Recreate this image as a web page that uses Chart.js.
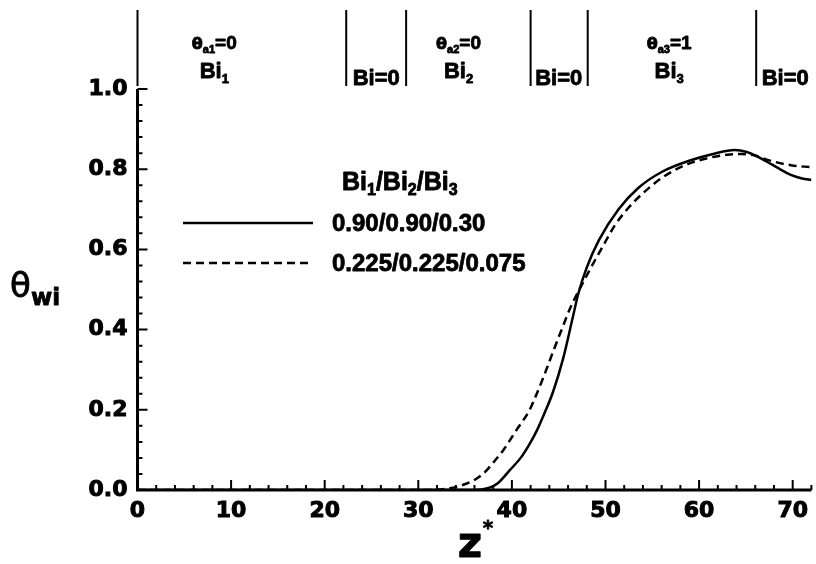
<!DOCTYPE html>
<html>
<head>
<meta charset="utf-8">
<script src="https://cdn.jsdelivr.net/npm/chart.js@4.4.0/dist/chart.umd.min.js"></script>
<style>
body { margin: 0; background: #fff; }
</style>
</head>
<body>
<canvas id="myChart" width="816" height="564"></canvas>
<script>
// solid curve, Bi = 0.90/0.90/0.30
var zSolid = [0, 30, 36, 37.5, 38.5, 39.8, 41, 41.9, 42.7, 43.4, 44.4, 45.5, 46.5, 47.1, 48, 49.3, 51.4, 53.5, 56, 59.2, 61.5, 63.8, 65.1, 66.2, 67.3, 68.5, 69.8, 71, 72];
var thetaSolid = [0, 0, 0, 0.005, 0.017, 0.05, 0.082, 0.115, 0.15, 0.187, 0.245, 0.33, 0.43, 0.49, 0.555, 0.623, 0.70, 0.753, 0.793, 0.823, 0.838, 0.848, 0.843, 0.832, 0.818, 0.802, 0.786, 0.777, 0.773];

// dashed curve, Bi = 0.225/0.225/0.075
var zDashed = [0, 31, 33, 34.4, 36, 37, 38, 39.1, 40.5, 41.9, 42.6, 43.4, 44.4, 45.4, 46.2, 47.1, 48, 49, 49.7, 51, 52.5, 54, 56, 58.5, 61, 63, 64.5, 66, 67.5, 69.8, 72];
var thetaDashed = [0, 0, 0.003, 0.01, 0.025, 0.042, 0.068, 0.1, 0.15, 0.2, 0.237, 0.283, 0.345, 0.405, 0.452, 0.495, 0.535, 0.578, 0.607, 0.66, 0.705, 0.74, 0.778, 0.81, 0.828, 0.836, 0.838, 0.834, 0.822, 0.81, 0.805];

var legendLabels = ["0.90/0.90/0.30", "0.225/0.225/0.075"];

// zones along z* drawn above the plot
var zoneEdges = [0, 22.3, 28.7, 42, 48.1, 66.1];
var zoneLabelZ = [8.2, 25.5, 34.3, 45, 56.8, 69.2];
var zoneThetaSub = ["a1", null, "a2", null, "a3", null];
var zoneThetaVal = ["0", null, "0", null, "1", null];
var zoneBiSub = ["1", null, "2", null, "3", null];

var xMax = 72;

function toPoints(xs, ys) {
    var pts = [];
    for (var i = 0; i < xs.length; i++) {
        pts.push({ x: xs[i], y: ys[i] });
    }
    return pts;
}

// draws a row of text pieces [text, font, dy], centred on cx (or from cx if align is 'left')
function drawPieces(c, pieces, cx, y, align, heavy) {
    var w = 0;
    pieces.forEach(function (p) { c.font = p[1]; w += c.measureText(p[0]).width; });
    var x = align === 'left' ? cx : cx - w / 2;
    c.textAlign = 'left';
    c.textBaseline = 'alphabetic';
    c.lineWidth = heavy === undefined ? 0.8 : heavy;
    c.lineJoin = 'round';
    pieces.forEach(function (p) {
        c.font = p[1];
        c.fillText(p[0], x, y + p[2]);
        if (c.lineWidth > 0.01) c.strokeText(p[0], x, y + p[2]);
        x += c.measureText(p[0]).width;
    });
}

const decor = {
    id: 'decor',
    afterDraw(chart) {
        var c = chart.ctx, xs = chart.scales.x, ys = chart.scales.y, a = chart.chartArea;
        c.save();
        c.strokeStyle = '#000';
        c.fillStyle = '#000';

        // axes
        c.lineWidth = 3;
        c.beginPath();
        c.moveTo(a.left, a.top);
        c.lineTo(a.left, a.bottom);
        c.lineTo(a.right, a.bottom);
        c.stroke();

        // inward ticks
        c.lineWidth = 2;
        c.beginPath();
        for (var i = 0; i * 2 <= xMax; i++) {
            var px = xs.getPixelForValue(i * 2);
            var len = (i * 2) % 10 === 0 ? 10 : 5;
            c.moveTo(px, a.bottom);
            c.lineTo(px, a.bottom - len);
        }
        for (var j = 0; j <= 25; j++) {
            var py = ys.getPixelForValue(j * 0.04);
            var ln = j % 5 === 0 ? 10 : 5;
            c.moveTo(a.left, py);
            c.lineTo(a.left + ln, py);
        }
        c.stroke();

        // zone separators
        c.lineWidth = 2;
        c.beginPath();
        zoneEdges.forEach(function (z) {
            var px = xs.getPixelForValue(z);
            c.moveTo(px, 10);
            c.lineTo(px, 86);
        });
        c.stroke();

        // zone labels
        zoneLabelZ.forEach(function (z, k) {
            var px = xs.getPixelForValue(z);
            if (zoneThetaSub[k]) {
                drawPieces(c, [
                    ["\u03b8", "bold 16px 'DejaVu Sans'", 0],
                    [zoneThetaSub[k], "bold 11px 'Liberation Sans'", 4],
                    ["=" + zoneThetaVal[k], "bold 19px 'Liberation Sans'", 0]
                ], px, 49);
                drawPieces(c, [
                    ["Bi", "bold 22px 'Liberation Sans'", 0],
                    [zoneBiSub[k], "bold 13px 'Liberation Sans'", 5]
                ], px, 78);
            } else {
                drawPieces(c, [["Bi=0", "bold 22px 'Liberation Sans'", 0]], px, 85);
            }
        });

        // legend
        c.lineWidth = 2.5;
        c.beginPath();
        c.moveTo(183, 223); c.lineTo(313, 223);
        c.stroke();
        c.setLineDash([8, 5]);
        c.beginPath();
        c.moveTo(183, 263); c.lineTo(313, 263);
        c.stroke();
        c.setLineDash([]);
        drawPieces(c, [
            ["Bi", "bold 25px 'Liberation Sans'", 0], ["1", "bold 16px 'Liberation Sans'", 5],
            ["/Bi", "bold 25px 'Liberation Sans'", 0], ["2", "bold 16px 'Liberation Sans'", 5],
            ["/Bi", "bold 25px 'Liberation Sans'", 0], ["3", "bold 16px 'Liberation Sans'", 5]
        ], 342, 190, 'left');
        drawPieces(c, [[legendLabels[0], "bold 24px 'Liberation Sans'", 0]], 332, 231, 'left');
        drawPieces(c, [[legendLabels[1], "bold 24px 'Liberation Sans'", 0]], 332, 271, 'left');

        // axis titles
        drawPieces(c, [["\u03b8", "34px 'DejaVu Sans'", 0]], 10, 297, 'left', 0);
        drawPieces(c, [["wi", "bold 23px 'DejaVu Sans'", 0]], 31, 305, 'left');
        drawPieces(c, [["z", "bold 42px 'DejaVu Sans'", 0]], 470, 557);
        drawPieces(c, [["*", "bold 20px 'DejaVu Sans'", 0]], 488, 534);

        c.restore();
    }
};

const ctx = document.getElementById('myChart');

var tickFont = { family: 'DejaVu Sans', weight: 'bold', size: 22 };

const myChart = new Chart(ctx, {
    type: 'line',
    data: {
        datasets: [
            {
                label: legendLabels[0],
                data: toPoints(zSolid, thetaSolid),
                borderColor: '#000',
                borderWidth: 2.5,
                pointRadius: 0,
                cubicInterpolationMode: 'monotone'
            },
            {
                label: legendLabels[1],
                data: toPoints(zDashed, thetaDashed),
                borderColor: '#000',
                borderWidth: 2.5,
                borderDash: [8, 5],
                pointRadius: 0,
                cubicInterpolationMode: 'monotone'
            }
        ]
    },
    options: {
        responsive: false,
        animation: false,
        layout: { padding: { top: 89, right: 0, left: 0, bottom: 0 } },
        plugins: {
            legend: { display: false },
            tooltip: { enabled: false }
        },
        scales: {
            x: {
                type: 'linear',
                min: 0,
                max: xMax,
                afterFit: function (s) { s.height = 74; },
                grid: { display: false, drawTicks: false },
                border: { display: false },
                ticks: {
                    stepSize: 10,
                    includeBounds: false,
                    padding: 8,
                    color: '#000',
                    textStrokeColor: '#000',
                    textStrokeWidth: 1,
                    maxRotation: 0,
                    font: tickFont
                }
            },
            y: {
                min: 0,
                max: 1,
                afterFit: function (s) { s.width = 137.5; },
                grid: { display: false, drawTicks: false },
                border: { display: false },
                ticks: {
                    stepSize: 0.2,
                    includeBounds: false,
                    padding: 10,
                    color: '#000',
                    textStrokeColor: '#000',
                    textStrokeWidth: 1,
                    font: tickFont,
                    callback: function (v) { return v.toFixed(1); }
                }
            }
        }
    },
    plugins: [decor]
});
</script>
</body>
</html>
